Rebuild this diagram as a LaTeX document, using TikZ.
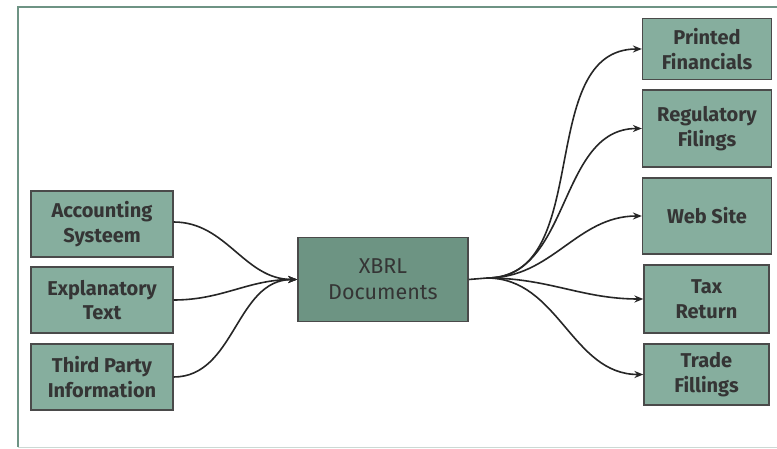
\documentclass[tikz,border=0pt]{standalone}
\usepackage{fontspec}
\setmainfont{Fira Sans}
\usetikzlibrary{arrows.meta}
\definecolor{boxfill}{HTML}{86AE9E}
\definecolor{hubfill}{HTML}{6D9483}
\definecolor{boxline}{HTML}{4A4A4A}
\definecolor{frameline}{HTML}{6E9384}
\definecolor{txt}{HTML}{353535}
\tikzset{
  srcbox/.style={draw=boxline, line width=1.2pt, fill=boxfill, minimum width=142pt, minimum height=66pt,
    align=center, font=\fontsize{20}{24.5}\selectfont\bfseries, text=txt, inner sep=0pt},
  outbox/.style={draw=boxline, line width=1.2pt, fill=boxfill, minimum width=129pt,
    align=center, font=\fontsize{20}{24.5}\selectfont\bfseries, text=txt, inner sep=0pt},
  hubbox/.style={draw=boxline, line width=1.6pt, fill=hubfill, minimum width=170pt, minimum height=84pt,
    align=center, font=\fontsize{21.5}{26}\selectfont, text=txt, inner sep=0pt,
    % faint dot grid inside the hub, drawn beneath its label
    path picture={
      \foreach \xx in {305,322,...,465} \foreach \yy in {245,259,...,320}
        \fill[black!30] (\xx,\yy) circle (0.5pt);
    }},
  link/.style={draw=black!85, line width=1.6pt, -{Stealth[length=9pt,width=7pt]}},
}
\begin{document}
\begin{tikzpicture}[x=1pt, y=-1pt]
\useasboundingbox (0,0) rectangle (777,449);
\fill[white] (0,0) rectangle (777,449);
% frame
\draw[frameline, line width=2pt] (18,447) -- (18,7) -- (777,7);
\draw[frameline!35, line width=1pt] (18,447.5) -- (777,447.5);

% sources
\node[srcbox] (acc) at (102,224) {Accounting\\Systeem};
\node[srcbox] (exp) at (102,300) {Explanatory\\Text};
\node[srcbox] (thp) at (102,377) {Third Party\\Information};

% hub
\node[hubbox] (xbrl) at (383,279.5) {XBRL\\Documents};

% outputs
\node[outbox, minimum height=61pt] (prn) at (707,49) {Printed\\Financials};
\node[outbox, minimum height=77pt] (reg) at (707,128.5) {Regulatory\\Filings};
\node[outbox, minimum height=76pt] (web) at (707,216) {Web Site};
\node[outbox, minimum width=125pt, minimum height=68pt] (tax) at (706.5,299) {Tax\\Return};
\node[outbox, minimum width=125pt, minimum height=61pt] (trd) at (706.5,374.5) {Trade\\Fillings};

% links into the hub
\coordinate (hubin) at (xbrl.west);
\draw[link] (acc.east) ++(0,-2) to[out=0, in=180] (hubin);
\draw[link] (exp.east) to[out=0, in=180] (hubin);
\draw[link] (thp.east) to[out=0, in=180] (hubin);

% links out of the hub
\coordinate (fan) at (487,278);
\draw[line width=1.6pt, black!85] (xbrl.east) -- (fan);
\draw[link] (fan) to[out=0, in=180] (prn.west);
\draw[link] (fan) to[out=0, in=180] (reg.west);
\draw[link] (fan) to[out=0, in=180] (web.west);
\draw[link] (fan) to[out=0, in=180] (tax.west);
\draw[link] (fan) to[out=0, in=180] (trd.west);
\end{tikzpicture}
\end{document}
